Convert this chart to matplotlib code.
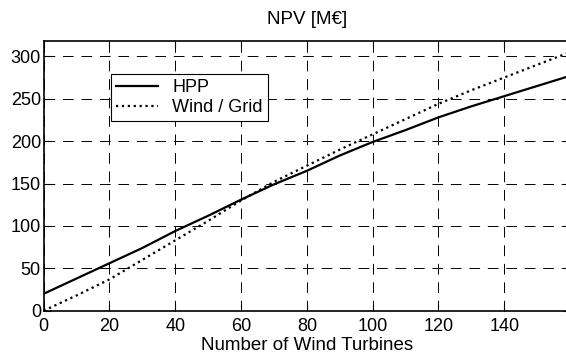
import numpy as np
import matplotlib
matplotlib.use("Agg")
import matplotlib.pyplot as plt

plt.rcParams['font.family'] = ['Liberation Sans', 'DejaVu Sans']

# ----------------- data -----------------
turbines = [0, 10, 20, 30, 40, 50, 60, 70, 80, 90, 100, 110, 120, 130, 140, 150, 160]
npv_hpp = [20, 38, 56, 74, 94, 112, 131, 149, 165, 183, 199, 213, 228, 241, 253, 265, 277]
npv_wind_grid = [0, 18, 37, 60, 83, 106, 130, 152, 171, 190, 208, 226, 244, 260, 275, 290, 305]

x_ticks = [0, 20, 40, 60, 80, 100, 120, 140]
y_ticks = [0, 50, 100, 150, 200, 250, 300]

# ----------------- figure -----------------
fig = plt.figure(figsize=(5.66, 3.61), dpi=100)
ax = fig.add_axes([0.0772, 0.1393, 0.93, 0.747])

ax.plot(turbines, npv_hpp, color='black', linewidth=1.6, linestyle='-', label='HPP')
ax.plot(turbines, npv_wind_grid, color='black', linewidth=1.6, linestyle=':', label='Wind / Grid')

ax.set_xlim(0, 160)
ax.set_ylim(0, 318)
ax.set_xticks(x_ticks)
ax.set_yticks(y_ticks)
ax.tick_params(direction='in', top=True, right=True, length=5, width=0.8,
               labelsize=13, colors='black')
ax.tick_params(axis='x', pad=5)
ax.tick_params(axis='y', pad=2)
for s in ax.spines.values():
    s.set_linewidth(1.2)

ax.grid(True, color='black', linestyle=(0, (11, 8)), linewidth=0.7)

ax.set_title('NPV [M€]', fontsize=13.5, pad=12)
ax.set_xlabel('Number of Wind Turbines', fontsize=13.5, labelpad=2)

leg = ax.legend(loc='upper left', bbox_to_anchor=(0.11, 0.912), fontsize=13,
                frameon=True, fancybox=False, edgecolor='black', framealpha=1,
                handlelength=2.3, handletextpad=0.8, borderpad=0.3, labelspacing=0.15)
leg.get_frame().set_linewidth(0.8)

fig.savefig('out.png', dpi=100)
